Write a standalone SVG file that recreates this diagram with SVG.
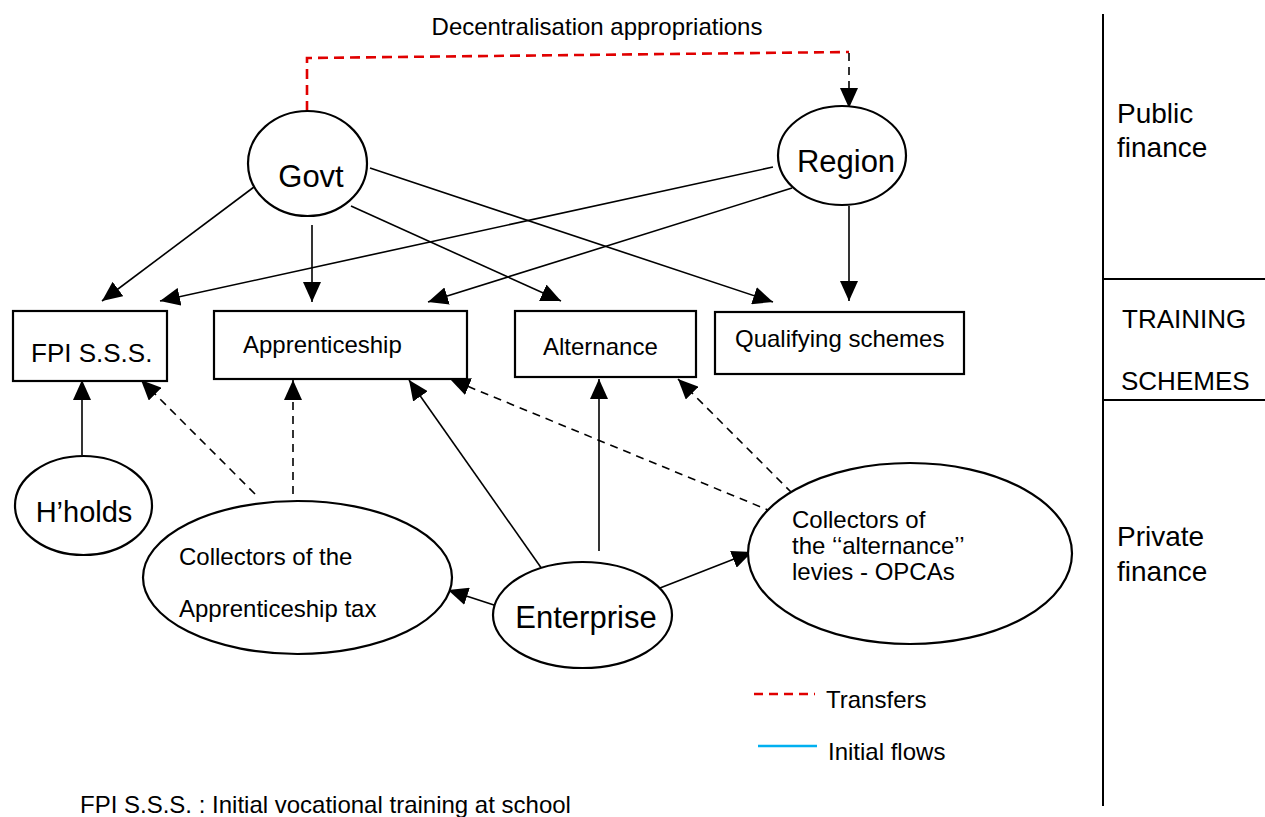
<svg xmlns="http://www.w3.org/2000/svg" width="1265" height="817" viewBox="0 0 1265 817">
<style>
text{font-family:"Liberation Sans",Arial,sans-serif;fill:#000}
.node{fill:#fff;stroke:#000;stroke-width:2.2}
.c{fill:none;stroke:#000;stroke-width:1.6}
.d{stroke-dasharray:8 6}
.t24{font-size:24px}
.t31{font-size:31px}
.t28{font-size:28px}
.sep{stroke:#000;stroke-width:2}
</style>
<defs>
<marker id="ah" markerUnits="userSpaceOnUse" viewBox="0 0 20 18" markerWidth="20" markerHeight="18" refX="20" refY="9" orient="auto">
<path d="M0,0 L20,9 L0,18 z" fill="#000"/>
</marker>
</defs>
<rect width="1265" height="817" fill="#fff"/>

<text class="t24" x="597" y="35" text-anchor="middle">Decentralisation appropriations</text>

<g id="connectors">
<path class="c" d="M307,111 V58 L849,52" stroke="#e00000" style="stroke:#e00000;stroke-width:2.6;stroke-dasharray:10 6"/>
<path class="c d" d="M849,53 L849,108" marker-end="url(#ah)"/>
<path class="c" d="M254,187 L102,301" marker-end="url(#ah)"/>
<path class="c" d="M773,167 L160,301" marker-end="url(#ah)"/>
<path class="c" d="M312,225 L312,302" marker-end="url(#ah)"/>
<path class="c" d="M792,188 L428,302" marker-end="url(#ah)"/>
<path class="c" d="M351,206 L561,301" marker-end="url(#ah)"/>
<path class="c" d="M370,168 L773,302" marker-end="url(#ah)"/>
<path class="c" d="M849,206 L849,301" marker-end="url(#ah)"/>
<path class="c" d="M82,455 L82,380" marker-end="url(#ah)"/>
<path class="c d" d="M255,494 L141,380" marker-end="url(#ah)"/>
<path class="c d" d="M293,494 L293,380" marker-end="url(#ah)"/>
<path class="c" d="M542,569 L409,380" marker-end="url(#ah)"/>
<path class="c" d="M599,551 L599,379" marker-end="url(#ah)"/>
<path class="c d" d="M773,512 L450,379" marker-end="url(#ah)"/>
<path class="c d" d="M792,493 L678,379" marker-end="url(#ah)"/>
<path class="c" d="M497,606 L448,590" marker-end="url(#ah)"/>
<path class="c" d="M660,588 L752,552" marker-end="url(#ah)"/>
</g>

<g id="govt">
<ellipse class="node" cx="307.5" cy="163.5" rx="59.5" ry="52.5"/>
<text class="t31" x="311" y="187" text-anchor="middle">Govt</text>
</g>
<g id="region">
<ellipse class="node" cx="842" cy="155.5" rx="64" ry="49.5"/>
<text class="t31" x="846" y="172" text-anchor="middle">Region</text>
</g>

<g id="fpi">
<rect class="node" x="13" y="311" width="154" height="70"/>
<text x="31" y="362" style="font-size:26px">FPI S.S.S.</text>
</g>
<g id="apprenticeship">
<rect class="node" x="214" y="311" width="253" height="68"/>
<text class="t24" x="243" y="353">Apprenticeship</text>
</g>
<g id="alternance">
<rect class="node" x="515" y="311" width="181" height="66"/>
<text class="t24" x="543" y="355">Alternance</text>
</g>
<g id="qualifying">
<rect class="node" x="715" y="312" width="249" height="62"/>
<text class="t24" x="735" y="347">Qualifying schemes</text>
</g>

<g id="households">
<ellipse class="node" cx="83.5" cy="505.5" rx="68.5" ry="49.5"/>
<text x="84" y="522" text-anchor="middle" style="font-size:29px">H’holds</text>
</g>
<g id="collectors-apprenticeship">
<ellipse class="node" cx="297.5" cy="577.5" rx="154.5" ry="76.5"/>
<text class="t24" x="179" y="565">Collectors of the</text>
<text class="t24" x="179" y="617">Apprenticeship tax</text>
</g>
<g id="enterprise">
<ellipse class="node" cx="582.5" cy="615" rx="89.5" ry="53"/>
<text class="t31" x="586" y="628" text-anchor="middle">Enterprise</text>
</g>
<g id="collectors-opcas">
<ellipse class="node" cx="910" cy="553.5" rx="162" ry="90.5"/>
<text class="t24" x="792" y="528">Collectors of</text>
<text class="t24" x="792" y="554">the ‘‘alternance’’</text>
<text class="t24" x="792" y="580">levies - OPCAs</text>
</g>

<g id="legend">
<line x1="754" y1="694" x2="815" y2="694" stroke="#e00000" stroke-width="2.6" stroke-dasharray="9 6"/>
<text class="t24" x="826" y="708">Transfers</text>
<line x1="758" y1="746" x2="817" y2="746" stroke="#00b0f0" stroke-width="2.6"/>
<text class="t24" x="828" y="760">Initial flows</text>
</g>

<g id="side-panel">
<line class="sep" x1="1103" y1="14" x2="1103" y2="806"/>
<line class="sep" x1="1103" y1="279" x2="1265" y2="279"/>
<line class="sep" x1="1103" y1="400" x2="1265" y2="400"/>
<text class="t28" x="1117" y="123">Public</text>
<text class="t28" x="1117" y="157">finance</text>
<text x="1122" y="328" style="font-size:26px">TRAINING</text>
<text x="1121" y="390" style="font-size:26px">SCHEMES</text>
<text class="t28" x="1117" y="546">Private</text>
<text class="t28" x="1117" y="581">finance</text>
</g>

<text class="t24" x="80" y="813">FPI S.S.S. : Initial vocational training at school</text>
</svg>
